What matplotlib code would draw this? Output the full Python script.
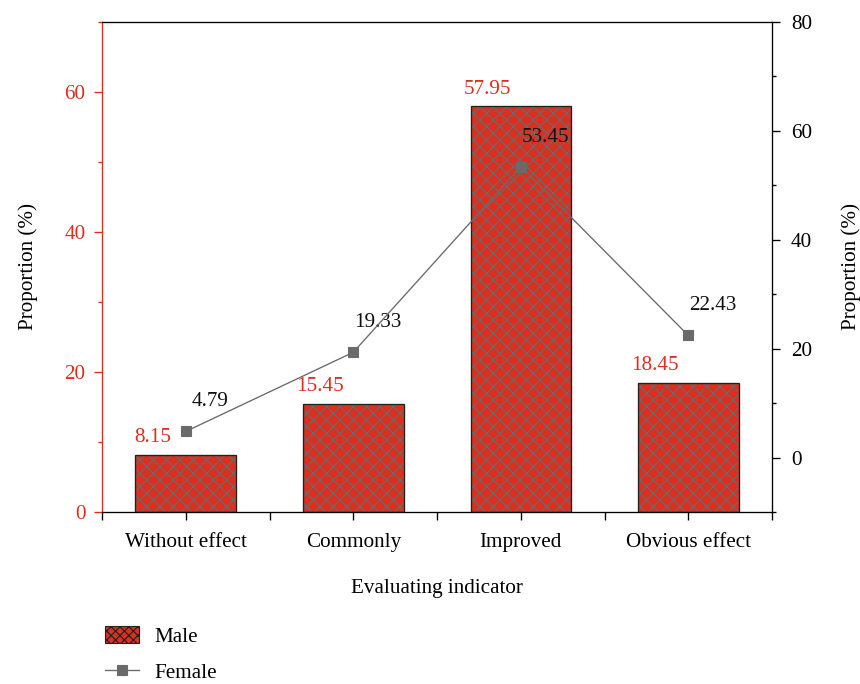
import matplotlib
matplotlib.use("Agg")
import matplotlib.pyplot as plt
from matplotlib.patches import Patch
from matplotlib.lines import Line2D
from matplotlib.ticker import MultipleLocator

# data
categories = ["Without effect", "Commonly", "Improved", "Obvious effect"]
male = [8.15, 15.45, 57.95, 18.45]
female = [4.79, 19.33, 53.45, 22.43]

red = "#dc2f1f"
grey = "#6a6a6a"
fs = 19

plt.rcParams["font.family"] = ["Liberation Serif", "DejaVu Serif"]
plt.rcParams["hatch.linewidth"] = 1.1

fig = plt.figure(figsize=(10.75, 8.55), dpi=80)
ax = fig.add_axes([0.1186, 0.2515, 0.7791, 0.7163])

x = range(len(categories))

# bars: hatch drawn in grey, outline drawn in black on top
ax.bar(x, male, width=0.6, color=red, edgecolor=grey, hatch="xx", linewidth=0, zorder=2)
ax.bar(x, male, width=0.6, facecolor="none", edgecolor="#222222", linewidth=1.2, zorder=3)

for xi, v in zip(x, male):
    ax.annotate(f"{v:.2f}", (xi, v), xytext=(-30, 7), textcoords="offset points",
                ha="center", va="bottom", color=red, fontsize=fs)

ax.set_xlim(-0.5, len(categories) - 0.5)
ax.set_ylim(0, 70)
ax.yaxis.set_major_locator(MultipleLocator(20))
ax.yaxis.set_minor_locator(MultipleLocator(10))
ax.set_xticks(list(x))
ax.set_xticklabels(categories, fontsize=fs)
ax.set_xticks([i - 0.5 for i in range(len(categories) + 1)], minor=True)
ax.tick_params(axis="x", which="major", length=7, width=1.2, pad=12)
ax.tick_params(axis="x", which="minor", length=7, width=1.2)
ax.tick_params(axis="y", which="both", colors=red, labelsize=fs, width=1.2)
ax.tick_params(axis="y", which="major", length=7, pad=8)
ax.tick_params(axis="y", which="minor", length=4)
ax.spines["left"].set_color(red)
ax.spines["left"].set_linewidth(1.2)
ax.spines["bottom"].set_linewidth(1.2)
ax.spines["top"].set_linewidth(1.2)
ax.set_ylabel("Proportion (%)", fontsize=fs, labelpad=24)
ax.set_xlabel("Evaluating indicator", fontsize=fs, labelpad=24)

# female line on the right axis
ax2 = ax.twinx()
ax2.plot(list(x), female, color=grey, linewidth=1.2, marker="s", markersize=9, zorder=4)
for xi, v in zip(x, female):
    ax2.annotate(f"{v:.2f}", (xi, v), xytext=(22, 18), textcoords="offset points",
                 ha="center", va="bottom", color="#111111", fontsize=fs)
ax2.set_ylim(-10, 80)
ax2.yaxis.set_major_locator(MultipleLocator(20))
ax2.yaxis.set_minor_locator(MultipleLocator(10))
ax2.set_yticks([0, 20, 40, 60, 80])
ax2.tick_params(axis="y", which="both", labelsize=fs, width=1.2)
ax2.tick_params(axis="y", which="major", length=7, pad=10)
ax2.tick_params(axis="y", which="minor", length=4)
ax2.spines["right"].set_linewidth(1.2)
ax2.spines["left"].set_visible(False)
ax2.set_ylabel("Proportion (%)", fontsize=fs, labelpad=26)

handles = [
    Patch(facecolor=red, edgecolor="#222222", hatch="xxx", linewidth=1.0, label="Male"),
    Line2D([0], [0], color=grey, marker="s", markersize=9, linewidth=1.2, label="Female"),
]
fig.legend(handles=handles, loc="upper left", bbox_to_anchor=(0.1, 0.113),
           frameon=False, fontsize=fs, handlelength=1.6, handleheight=0.9,
           labelspacing=0.7, handletextpad=0.75, bbox_transform=fig.transFigure)

fig.savefig("out.png", dpi=80)
